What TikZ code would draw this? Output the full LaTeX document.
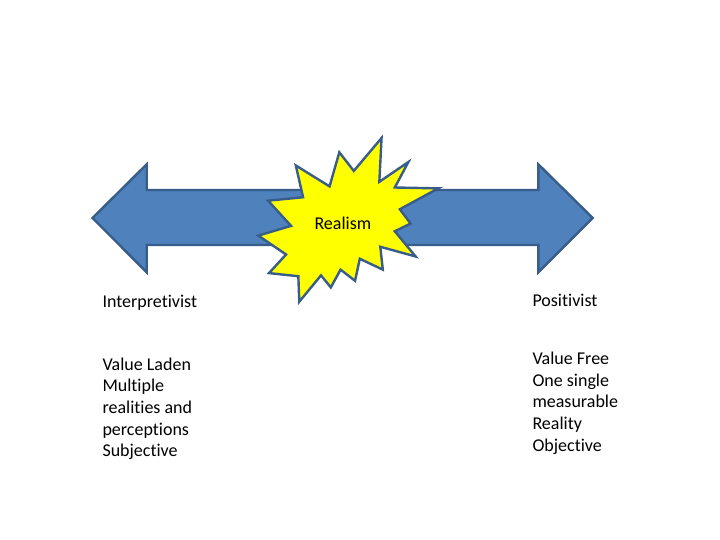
\documentclass[tikz,border=0pt]{standalone}
\usepackage{fontspec}
\setmainfont{Carlito}[Ligatures={NoCommon,NoContextual}]
\definecolor{arrowfill}{HTML}{4F81BD}
\definecolor{outline}{HTML}{385D8A}
\definecolor{starfill}{HTML}{FFFF00}
\begin{document}
\begin{tikzpicture}[x=1pt,y=-1pt,
  shapeline/.style={draw=outline,line width=2.4pt,line join=miter},
  label/.style={inner sep=0pt,anchor=base west,align=left,font=\fontsize{18}{21.6}\selectfont}]
\useasboundingbox[fill=white] (0,0) rectangle (720,540);
% double arrow
\draw[shapeline,fill=arrowfill] (92.5,218) -- (146.7,164.3) -- (146.7,190) -- (538.3,190)
  -- (538.3,164.3) -- (592.7,218) -- (538.3,272.3) -- (538.3,245) -- (146.7,245)
  -- (146.7,272.3) -- cycle;
% explosion star
\begin{scope}[shift={(258.3,138)},x=0.8333pt,y=-0.7579pt]
\draw[shapeline,fill=starfill] (114.62,43.42) -- (147.90,0) -- (145.25,57.77) -- (180.07,31.72)
  -- (163.80,65.32) -- (216,66.45) -- (169.85,94.02) -- (182.70,112.90) -- (163.80,123.10)
  -- (188.77,156.32) -- (146.40,143.50) -- (149.42,173.70) -- (121.80,159.35) -- (116.12,188.42)
  -- (98.72,173.70) -- (87.00,197.12) -- (75.27,181.25) -- (49.17,216) -- (48.05,182.40)
  -- (12.85,178.25) -- (33.30,153.70) -- (0,128.77) -- (39.35,115.92) -- (11.72,82.70)
  -- (53.72,78.17) -- (45.02,36.25) -- (85.50,63.82) -- (97.22,18.87) -- cycle;
\end{scope}
\node[label] (realism) at (314.3,229.5) {Realism};
\node[label] (interp) at (102.3,307) {Interpretivist};
\node[label] (posit) at (532.3,306.5) {Positivist};
% base anchor of a multi-line node is the last line's baseline
\node[label] (leftlist) at (102.3,456.7) {Value Laden\\Multiple\\realities and\\perceptions\\Subjective};
\node[label] (rightlist) at (532.3,451.1) {Value Free\\One single\\measurable\\Reality\\Objective};
\end{tikzpicture}
\end{document}
